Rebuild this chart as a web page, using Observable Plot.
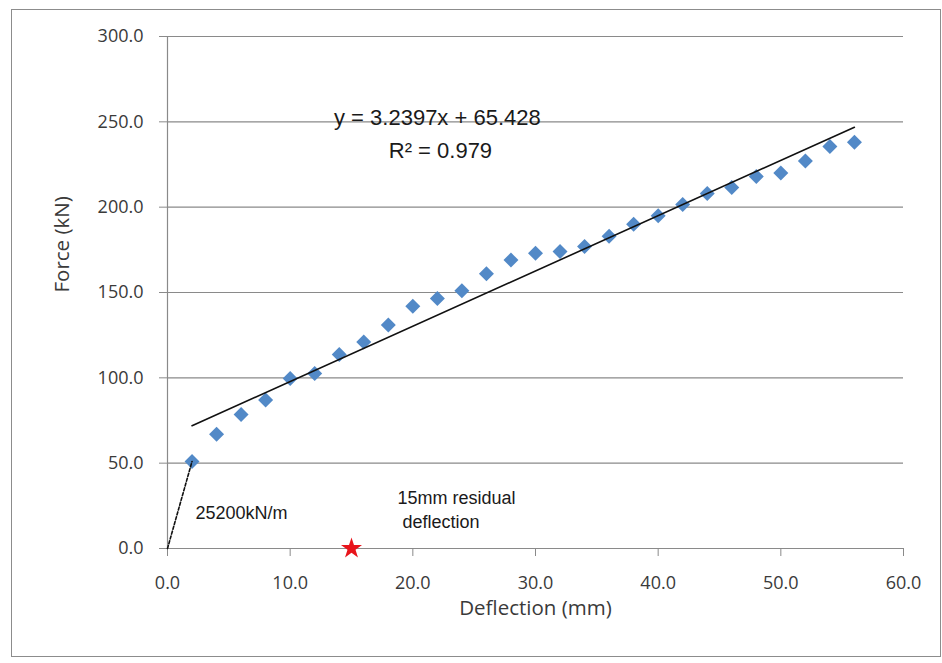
<!DOCTYPE html>
<html>
<head>
<meta charset="utf-8">
<script src="https://cdn.jsdelivr.net/npm/d3@7"></script>
<script src="https://cdn.jsdelivr.net/npm/@observablehq/plot@0.6"></script>
<style>
  html, body { margin: 0; padding: 0; background: #fff; }
  #chart { position: relative; width: 942px; height: 663px; }
  #chart .frame { position: absolute; left: 11px; top: 9px; width: 928px; height: 646px; border: 1px solid #8c8c8c; pointer-events: none; }
</style>
</head>
<body>
<div id="chart"><div class="frame"></div></div>
<script>
// Measured data (deflection in mm, force in kN)
const deflection = [2, 4, 6, 8, 10, 12, 14, 16, 18, 20, 22, 24, 26, 28, 30, 32, 34, 36, 38, 40, 42, 44, 46, 48, 50, 52, 54, 56];
const force = [51, 67, 78.5, 87, 99.6, 102.5, 113.7, 121, 131, 142, 146.5, 151, 161, 169, 173, 174, 177, 183, 190, 195, 201.5, 208, 211.5, 218, 220, 227, 235.5, 238];

// Linear trendline as labelled on the chart
const trendSlope = 3.2397;
const trendIntercept = 65.428;

// Residual deflection marker
const residual = [{x: 15, y: 0}];

// Axis ticks
const xTicks = [0, 10, 20, 30, 40, 50, 60];
const yTicks = [0, 50, 100, 150, 200, 250, 300];

// Annotations (positions in data units)
const annotations = [
  {text: "y = 3.2397x + 65.428", x: 22.0, y: 252, anchor: "middle", size: 22},
  {text: "R² = 0.979", x: 22.25, y: 233.2, anchor: "middle", size: 22},
  {text: "25200kN/m", x: 2.28, y: 20.5, anchor: "start", size: 18},
  {text: "15mm residual", x: 18.75, y: 29.3, anchor: "start", size: 18},
  {text: " deflection", x: 18.75, y: 15.2, anchor: "start", size: 18}
];

const points = deflection.map((d, i) => ({x: d, y: force[i]}));
const x0 = d3.min(deflection), x1 = d3.max(deflection);
const trend = [x0, x1].map(x => ({x, y: trendSlope * x + trendIntercept}));
const stiffness = [{x: 0, y: 0}, points[0]];

const grey = "#8a8a8a";
const textCol = "#3a3a3a";

const chart = Plot.plot({
  width: 942,
  height: 663,
  marginLeft: 167,
  marginRight: 39,
  marginTop: 36,
  marginBottom: 115,
  style: {fontFamily: "Open Sans", fontSize: "18px", background: "transparent", color: textCol},
  x: {domain: [0, 60]},
  y: {domain: [0, 300]},
  marks: [
    Plot.gridY(yTicks, {stroke: grey, strokeOpacity: 1, strokeWidth: 1.2}),
    Plot.ruleY([0], {stroke: grey, strokeWidth: 1.2}),
    Plot.ruleX([0], {stroke: grey, strokeWidth: 1.2}),
    Plot.axisY(yTicks, {tickSize: 8, tickPadding: 16, stroke: grey, fill: textCol, tickFormat: d => d.toFixed(1), label: null, fontSize: 18}),
    Plot.axisX(xTicks, {tickSize: 8, tickPadding: 20, stroke: grey, fill: textCol, tickFormat: d => d.toFixed(1), label: null, fontSize: 18}),
    Plot.text(["Deflection (mm)"], {frameAnchor: "bottom", dy: 60, fill: textCol, fontSize: 20.5, lineAnchor: "middle"}),
    Plot.text(["Force (kN)"], {frameAnchor: "left", dx: -105, rotate: -90, fill: textCol, fontSize: 20.5, lineAnchor: "middle"}),
    Plot.dot(points, {x: "x", y: "y", symbol: "diamond2", r: 6.75, fill: "#5289C7", stroke: null}),
    Plot.line(trend, {x: "x", y: "y", stroke: "#111", strokeWidth: 1.6}),
    Plot.line(stiffness, {x: "x", y: "y", stroke: "#111", strokeWidth: 1.6, strokeDasharray: "3,2"}),
    Plot.dot(residual, {x: "x", y: "y", symbol: "star", r: 6.6, fill: "#E8141B", stroke: null}),
    ...annotations.map(a => Plot.text([a], {x: "x", y: "y", text: "text", textAnchor: a.anchor, fontFamily: "Liberation Sans", fontSize: a.size, fill: "#1a1a1a", lineAnchor: "middle"}))
  ]
});
document.getElementById("chart").insertBefore(chart, document.querySelector("#chart .frame"));
chart.style.position = "absolute";
chart.style.left = "0";
chart.style.top = "0";
</script>
</body>
</html>
